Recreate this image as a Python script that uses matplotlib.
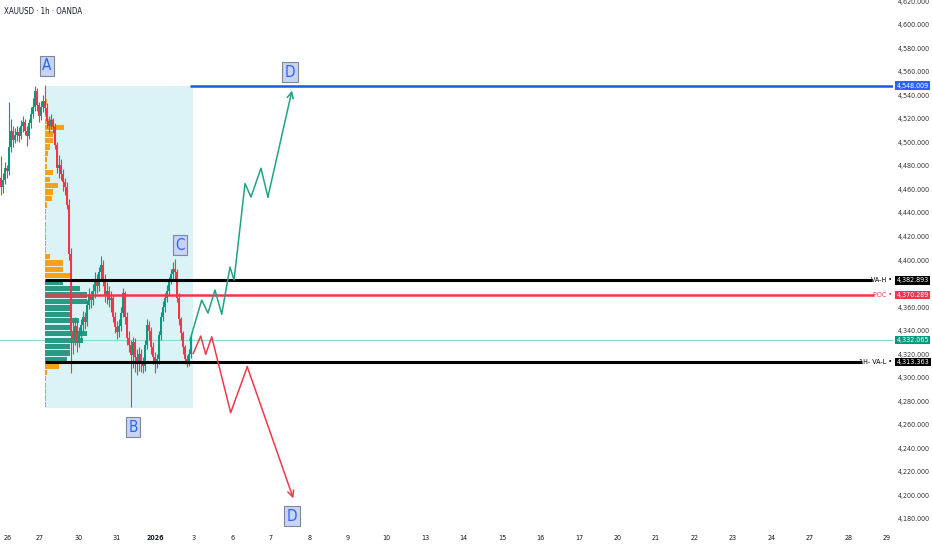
import matplotlib
matplotlib.use("Agg")
import matplotlib.pyplot as plt
from matplotlib.patches import Rectangle
from matplotlib.transforms import blended_transform_factory
from matplotlib import font_manager
from matplotlib.font_manager import FontProperties

# ---------------------------------------------------------------- data
# hourly candles (close / high / low); each open is the previous close
first_open = 4470
closes = [4462, 4468, 4478, 4476, 4496, 4510, 4502, 4506, 4509, 4505,
          4514, 4517, 4510, 4505, 4516, 4524, 4530, 4544, 4532, 4522,
          4530, 4535, 4529, 4518, 4514, 4519, 4513, 4498, 4478, 4481,
          4473, 4466, 4462, 4447, 4405, 4340, 4334, 4344, 4330, 4337,
          4345, 4352, 4347, 4362, 4370, 4366, 4374, 4381, 4378, 4390,
          4396, 4384, 4370, 4374, 4366, 4368, 4352, 4343, 4339, 4344,
          4355, 4372, 4352, 4334, 4328, 4319, 4330, 4318, 4312, 4320,
          4313, 4310, 4328, 4345, 4340, 4326, 4318, 4313, 4316, 4336,
          4352, 4360, 4368, 4374, 4383, 4388, 4392, 4390, 4368, 4350,
          4338, 4326, 4316, 4312, 4320, 4332]
highs = [4488, 4474, 4483, 4481, 4534, 4520, 4514, 4512, 4514, 4513,
         4519, 4522, 4520, 4514, 4520, 4530, 4538, 4548, 4546, 4534,
         4535, 4540, 4549, 4533, 4522, 4524, 4521, 4516, 4500, 4489,
         4486, 4477, 4470, 4466, 4452, 4410, 4350, 4352, 4347, 4343,
         4350, 4357, 4356, 4366, 4376, 4374, 4380, 4390, 4388, 4394,
         4403, 4400, 4388, 4381, 4378, 4374, 4370, 4356, 4348, 4350,
         4360, 4376, 4374, 4356, 4340, 4332, 4335, 4334, 4324, 4326,
         4324, 4318, 4332, 4350, 4348, 4343, 4330, 4322, 4320, 4340,
         4356, 4365, 4372, 4379, 4386, 4392, 4398, 4401, 4392, 4372,
         4352, 4340, 4328, 4319, 4324, 4336]
lows = [4455, 4457, 4465, 4470, 4472, 4492, 4496, 4499, 4501, 4500,
        4503, 4509, 4506, 4497, 4503, 4512, 4521, 4527, 4527, 4517,
        4519, 4526, 4524, 4512, 4508, 4511, 4508, 4494, 4474, 4470,
        4468, 4459, 4455, 4443, 4400, 4304, 4320, 4328, 4322, 4326,
        4333, 4340, 4341, 4344, 4358, 4359, 4362, 4368, 4372, 4374,
        4384, 4378, 4364, 4363, 4360, 4356, 4347, 4338, 4333, 4335,
        4340, 4352, 4346, 4328, 4322, 4275, 4308, 4305, 4302, 4306,
        4305, 4304, 4306, 4324, 4332, 4320, 4312, 4304, 4308, 4312,
        4332, 4348, 4356, 4364, 4370, 4380, 4384, 4382, 4364, 4345,
        4332, 4320, 4312, 4309, 4310, 4317]

# session day labels along the time axis (position in trading days)
day_labels = ["26", "27", "30", "31", "2026", "3", "6", "7", "8", "9", "10",
              "13", "14", "15", "16", "17", "20", "21", "22", "23", "24",
              "27", "28", "29"]
day_positions = [-0.83, 0, 1, 2, 3, 4, 5, 6, 7, 8, 9, 10, 11, 12, 13, 14,
                 15, 16, 17, 18, 19, 20, 21, 22]

price_ticks = list(range(4180, 4621, 20))
hidden_ticks = [4380]  # covered by the VA-H / POC tags

# fixed-range volume profile
range_start, range_end = 0.13, 3.974
range_high, range_low = 4548.009, 4274.5
profile_volume = [1, 1, 2, 1, 3, 8, 19, 8, 8, 5, 3, 2, 2, 8, 5, 13, 8, 7, 2, 1,
                  1, 1, 1, 1, 1, 1, 5, 18, 18, 27, 18, 35, 42, 42, 25, 25, 34,
                  25, 42, 38, 25, 25, 22, 14, 2, 1, 1, 1, 1, 1]
va_high, poc, va_low = 4382.893, 4370.289, 4313.363
last_price = 4332.065
target_high = 4548.009

# projected paths (time in trading days, price)
bull_t = [3.896, 4.20, 4.364, 4.545, 4.72, 4.935, 5.04, 5.325, 5.48, 5.74, 5.92, 6.545]
bull_p = [4332, 4366, 4355, 4374.5, 4354, 4394, 4383, 4465, 4453.5, 4478, 4453.5, 4544]
bear_t = [3.982, 4.174, 4.304, 4.46, 4.953, 5.384, 6.58]
bear_p = [4320.7, 4335.4, 4319.9, 4334.8, 4270.3, 4309.3, 4197.5]

# wave point labels
wave_names = ["A", "B", "C", "D", "D"]
wave_t = [0.182, 2.416, 3.636, 6.494, 6.545]
wave_p = [4565, 4258, 4412.7, 4559.7, 4182.5]

# ---------------------------------------------------------------- fonts
def _weight(f):
    if isinstance(f.weight, int):
        return f.weight
    return 700 if "bold" in str(f.weight).lower() else 400


def find_face(bold):
    """Pick a narrow sans face: Liberation Sans Narrow, else DejaVu Sans Condensed."""
    narrow, condensed = None, None
    for f in font_manager.fontManager.ttflist:
        if f.style != "normal" or (_weight(f) >= 600) != bold:
            continue
        if "Serif" in f.name or "Mono" in f.name or "Sans" not in f.name:
            continue
        if "Liberation Sans Narrow" in f.name:
            narrow = f.fname
        elif "DejaVu Sans" in f.name and ("Condensed" in f.name or
                                         f.stretch in ("condensed", "semi-condensed")):
            condensed = f.fname
    if narrow:
        return narrow, 1.0
    if condensed:
        return condensed, 0.84
    return None, 0.74


reg_face = find_face(False)
bold_face = find_face(True)


def fp(size, bold=False):
    path, scale = bold_face if bold else reg_face
    if path:
        return FontProperties(fname=path, size=size * scale)
    return FontProperties(family="DejaVu Sans", size=size * scale,
                          weight="bold" if bold else "normal")

SMALL = 6.1
UP, DOWN = "#089981", "#f23645"
TXT = "#131722"

# ---------------------------------------------------------------- figure
fig = plt.figure(figsize=(9.32, 5.50), dpi=100)
fig.patch.set_facecolor("white")
ax = fig.add_axes([0, 23 / 550, 893 / 932, 527 / 550])
ax.set_xlim(-1.039, 22.156)
ax.set_ylim(4173.2, 4620.9)
for s in ax.spines.values():
    s.set_visible(False)

# range background
ax.add_patch(Rectangle((range_start, range_low), range_end - range_start,
                       range_high - range_low, facecolor="#daf3f7",
                       edgecolor="none", zorder=1))

# volume profile rows
n_rows = len(profile_volume)
row_h = (range_high - range_low) / n_rows
vmax = max(profile_volume)
max_w = 0.284 * (range_end - range_start)
for i, v in enumerate(profile_volume):
    top = range_high - i * row_h
    center = top - row_h / 2
    col = "#2a9a82" if va_low <= center <= va_high else "#f7a11a"
    ax.barh(center, v / vmax * max_w, height=row_h * 0.82, left=range_start,
            color=col, edgecolor="none", zorder=3)

# candles
step = 2 / 38.5
t0 = -1.013
opens = [first_open] + closes[:-1]
for i, (o, c, h, l) in enumerate(zip(opens, closes, highs, lows)):
    t = t0 + i * step
    col = UP if c >= o else DOWN
    ax.vlines(t, l, h, color=col, lw=0.8, zorder=4)
    ax.bar(t, max(abs(c - o), 0.6), bottom=min(o, c), width=step * 0.8,
           color=col, edgecolor="none", zorder=4)

# level lines (each stops just before its caption)
ax.axhline(last_price, color="#8fd9cc", lw=0.8, zorder=2)
ax.hlines(va_high, range_start, 21.62, color="black", lw=2.2, zorder=5)
ax.hlines(poc, range_start, 21.66, color=DOWN, lw=1.8, zorder=5)
ax.hlines(va_low, range_start, 21.36, color="black", lw=2.2, zorder=5)
ax.hlines(target_high, 3.9, 22.156, color="#2157e6", lw=1.8, zorder=5)

# projected paths with open arrow heads
for ts, ps, col in [(bull_t, bull_p, "#1fa386"), (bear_t, bear_p, "#f0384a")]:
    ax.plot(ts[:-1], ps[:-1], color=col, lw=1.1, zorder=6)
    ax.annotate("", xy=(ts[-1], ps[-1]), xytext=(ts[-2], ps[-2]),
                arrowprops=dict(arrowstyle="->", color=col, lw=1.1,
                                shrinkA=0, shrinkB=0, mutation_scale=11), zorder=6)

# wave labels
for name, t, p in zip(wave_names, wave_t, wave_p):
    ax.text(t, p, name, ha="center", va="center", color="#2962ff",
            fontproperties=fp(13), zorder=8,
            bbox=dict(boxstyle="square,pad=0.18", fc="#c9d4f4", ec="#7d8799", lw=0.8))

# time axis
ax.set_xticks(day_positions)
ax.set_xticklabels(day_labels, color=TXT)
for lbl in ax.get_xticklabels():
    lbl.set_fontproperties(fp(SMALL, bold=(lbl.get_text() == "2026")))
ax.tick_params(axis="x", length=0, pad=6)

# price axis
ax.yaxis.tick_right()
ax.set_yticks(price_ticks)
ax.set_yticklabels(["" if v in hidden_ticks else f"{v:,.3f}" for v in price_ticks],
                   color="#333333")
for lbl in ax.get_yticklabels():
    lbl.set_fontproperties(fp(SMALL))
ax.tick_params(axis="y", length=0, pad=3.5)

# price tags on the scale
tr = blended_transform_factory(ax.transAxes, ax.transData)
tags = [(target_high, "#2962ff"), (va_high, "black"), (poc, DOWN),
        (last_price, UP), (va_low, "black")]
for val, fc in tags:
    ax.text(1.0 + 3.5 / 893, val, f"{val:,.3f}", transform=tr, ha="left",
            va="center", color="white", fontproperties=fp(SMALL),
            clip_on=False, zorder=10,
            bbox=dict(boxstyle="square,pad=0.2", fc=fc, ec="none"))

for val, name, col in [(va_high, "VA-H •", "black"), (poc, "POC •", DOWN),
                       (va_low, "1H- VA-L •", "black")]:
    ax.text(1.0 - 1 / 893, val, name, transform=tr, ha="right", va="center",
            color=col, fontproperties=fp(SMALL), zorder=9, clip_on=False)

fig.text(4 / 932, 1 - 12 / 550, "XAUUSD · 1h · OANDA", color=TXT,
         fontproperties=fp(SMALL + 0.6), ha="left", va="center")

fig.savefig("out.png", dpi=100, facecolor="white")
